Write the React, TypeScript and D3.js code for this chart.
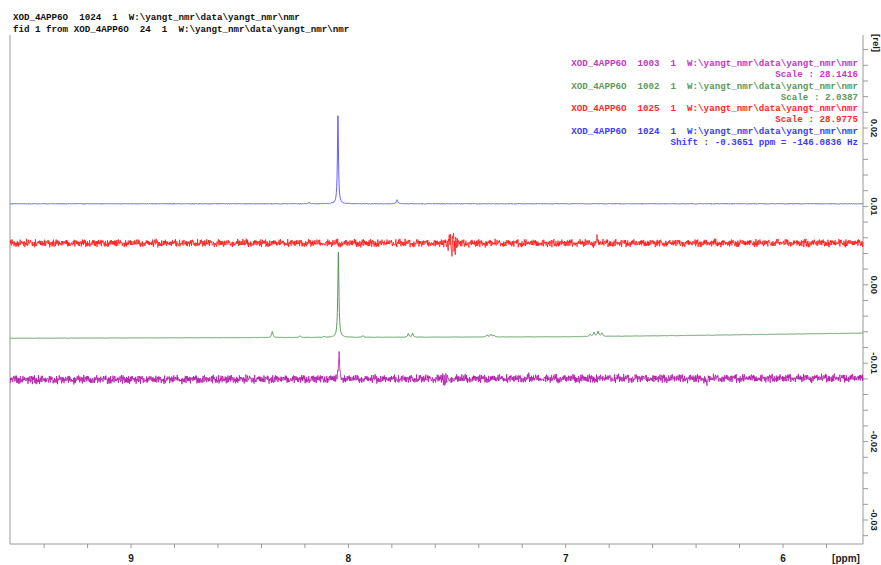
import * as d3 from 'd3'
import React from 'react'

const W = 881
const H = 565

// title block, top left
const headerLines = [
  'XOD_4APP6O  1024  1  W:\\yangt_nmr\\data\\yangt_nmr\\nmr',
  'fid 1 from XOD_4APP6O  24  1  W:\\yangt_nmr\\data\\yangt_nmr\\nmr',
]

// legend block, top right (top-down)
const legendLabels = [
  'XOD_4APP6O  1003  1  W:\\yangt_nmr\\data\\yangt_nmr\\nmr',
  'XOD_4APP6O  1002  1  W:\\yangt_nmr\\data\\yangt_nmr\\nmr',
  'XOD_4APP6O  1025  1  W:\\yangt_nmr\\data\\yangt_nmr\\nmr',
  'XOD_4APP6O  1024  1  W:\\yangt_nmr\\data\\yangt_nmr\\nmr',
]
const legendNotes = ['Scale : 28.1416', 'Scale : 2.0387', 'Scale : 28.9775', 'Shift : -0.3651 ppm = -146.0836 Hz']
const legendColors = ['#c03ac0', '#5a9a5a', '#ff2a2a', '#3b3bff']

// axes
const ppmLabels = [9, 8, 7, 6]
const relLabels = [0.02, 0.01, 0.0, -0.01, -0.02, -0.03]

// spectra: baseline anchors [ppm, rel], peaks [ppm, height rel, half width ppm]
const blueBase = [[9.56, 0.01033], [5.63, 0.01033]]
const bluePeaks = [[8.048, 0.01122, 0.0028], [8.181, 0.00015, 0.004], [7.776, 0.0005, 0.004]]

const redBase = [[9.56, 0.00529], [5.63, 0.00532]]
const redPeaks = [[6.856, 0.0009, 0.0015]]
// phase artefact near 7.52 ppm, x 0.001 rel, one value per 0.003 ppm from 7.55 down
const redBurst = [0.2, -0.4, 0.3, -0.7, 0.6, 1.2, -0.5, 1.4, -0.9, -1.7, 0.8, 1.3, -1.2, 0.4, -1.5, 0.9, -0.6, 0.7, -0.3, 0.4, -0.3, 0.2, -0.2]

const greenBase = [[9.56, -0.00682], [7.0, -0.00663], [6.4, -0.00645], [5.63, -0.00616]]
const greenPeaks = [
  [8.35, 0.00077, 0.004], [8.222, 0.0002, 0.004], [8.112, 0.00013, 0.004], [8.046, 0.0109, 0.003],
  [7.933, 0.0002, 0.004], [7.724, 0.00045, 0.0035], [7.704, 0.0005, 0.0035],
  [7.362, 0.00026, 0.004], [7.344, 0.00032, 0.004], [7.33, 0.0002, 0.004],
  [6.888, 0.00026, 0.004], [6.87, 0.0005, 0.004], [6.851, 0.00064, 0.004], [6.833, 0.0004, 0.004],
]

const magentaBase = [[9.56, -0.01212], [5.63, -0.0119]]
const magentaPeaks = [[8.043, 0.0031, 0.003], [6.35, -0.001, 0.002], [7.17, 0.0003, 0.0015]]
const magentaBurst = [0.3, -0.3, 0.5, -0.5, 0.4, -0.6, 0.5, -0.3, 0.3, -0.2]

// baseline jitter tables (typed, used as texture for the noisy traces)
const NOISE_A = [0.42, -0.81, 0.13, 0.67, -0.35, -0.92, 0.58, 0.05, -0.47, 0.88, -0.21, 0.34, -0.66, 0.91, -0.08, -0.55, 0.72, 0.19, -0.97, 0.46, -0.12, 0.63, -0.74, 0.28, 0.85, -0.39, -0.03, 0.51, -0.86, 0.37, 0.69, -0.58, 0.11, -0.29, 0.94, -0.45, 0.22, -0.71, 0.56, -0.16, 0.79, -0.93, 0.31, 0.02, -0.62, 0.48, -0.25, 0.83, -0.41, 0.15, -0.77, 0.6, -0.06, 0.39, -0.89, 0.74, -0.32, 0.09, -0.53, 0.97, -0.18]
const NOISE_B = [-0.33, 0.71, -0.58, 0.14, 0.92, -0.26, -0.84, 0.47, 0.06, -0.69, 0.38, 0.81, -0.12, -0.49, 0.63, -0.95, 0.24, 0.55, -0.37, 0.1, -0.78, 0.86, -0.2, 0.43, -0.64, 0.17, 0.99, -0.44, -0.07, 0.52, -0.88, 0.3, 0.66, -0.15, -0.73, 0.4, 0.08, -0.57, 0.89, -0.31, 0.2, -0.82, 0.61, 0.04, -0.5, 0.76, -0.27, -0.65, 0.35, 0.93, -0.11, -0.4, 0.57]

const spectra = [
  { color: '#5050ff', base: blueBase, peaks: bluePeaks, noise: 0.00006, seed: 3, width: 0.9 },
  { color: '#ff1a1a', base: redBase, peaks: redPeaks, noise: 0.0006, seed: 11, width: 0.8, burst: { start: 7.55, step: 0.003, values: redBurst } },
  { color: '#4a8f4a', base: greenBase, peaks: greenPeaks, noise: 0.00003, seed: 23, width: 0.9 },
  { color: '#b01aa8', base: magentaBase, peaks: magentaPeaks, noise: 0.00065, seed: 37, width: 0.8, burst: { start: 7.575, step: 0.004, values: magentaBurst } },
]

const frame = { left: 10, right: 863, top: 35, bottom: 544 }

const x = d3.scaleLinear().domain([9.557, 5.632]).range([frame.left, frame.right])
const y = d3.scaleLinear().domain([0.02, -0.03]).range([128, 520])

function buildTrace(s: any) {
  const [p0, p1] = x.domain()
  const step = 0.34 / Math.abs(x(8) - x(9))
  const grid = d3.range(p1, p0, step).concat(s.peaks.map((p: number[]) => p[0]))
  grid.sort(d3.descending)
  const base = d3.scaleLinear().domain(s.base.map((b: number[]) => b[0])).range(s.base.map((b: number[]) => b[1]))
  return grid.map((ppm: number, i: number) => {
    let v = base(ppm)
    for (const [c, h, w] of s.peaks) {
      const t = (ppm - c) / w
      v += h / (1 + t * t)
    }
    if (s.burst) {
      const k = Math.round((s.burst.start - ppm) / s.burst.step)
      if (k >= 0 && k < s.burst.values.length) v += s.burst.values[k] * 0.001 * (i % 2 ? 1 : 0.6)
    }
    v += s.noise * (NOISE_A[(i + s.seed) % NOISE_A.length] + NOISE_B[(i * 3 + s.seed) % NOISE_B.length]) / 2
    return [ppm, v] as [number, number]
  })
}

const line = d3.line<[number, number]>().x(d => x(d[0])).y(d => y(d[1]))

const mono = '"Liberation Mono", "DejaVu Sans Mono", monospace'
const sans = '"Liberation Sans", Arial, sans-serif'
const pre = { whiteSpace: 'pre' as const }

export default function App() {
  const xTicks = d3.range(56, 96, 2).map(d => d / 10).filter(d => x(d) >= frame.left && x(d) <= frame.right)
  const yTicks = d3.range(-32, 32, 2).map(d => d / 1000).filter(d => y(d) >= frame.top && y(d) <= frame.bottom)
  const fmt = (d: number) => d3.format('.2f')(d).replace('\u2212', '-')

  return (
    <svg width={W} height={H} style={{ position: 'absolute', left: 0, top: 0, background: '#fff' }}>
      {headerLines.map((t, i) => (
        <text key={i} x={13} y={17 + i * 12.5} fontFamily={mono} fontSize={9.2} fontWeight="bold" fill="#111"
          dominantBaseline="central" xmlSpace="preserve" style={pre}>{t}</text>
      ))}

      {/* frame */}
      <path d={`M${frame.left},${frame.top}V${frame.bottom}H${frame.right}V${frame.top}`} fill="none" stroke="#9a9a9a" strokeWidth={1} />

      {/* x ticks */}
      {xTicks.map(d => (
        <line key={d} x1={x(d)} x2={x(d)} y1={frame.bottom} y2={frame.bottom + 4} stroke="#9a9a9a" />
      ))}
      {ppmLabels.map(d => (
        <text key={d} x={x(d)} y={558} textAnchor="middle" dominantBaseline="central" fontFamily={sans} fontWeight="bold" fontSize={10} fill="#222">{d}</text>
      ))}
      <text x={846} y={558} textAnchor="middle" dominantBaseline="central" fontFamily={sans} fontWeight="bold" fontSize={10} fill="#222">[ppm]</text>

      {/* y ticks */}
      {yTicks.map(d => (
        <line key={d} x1={frame.right} x2={frame.right + 5} y1={y(d)} y2={y(d)} stroke="#9a9a9a" />
      ))}
      {relLabels.map(d => (
        <text key={d} transform={`translate(874,${y(d)}) rotate(90)`} textAnchor="middle" dominantBaseline="central"
          fontFamily={sans} fontWeight="bold" fontSize={9.5} fill="#222">{fmt(d)}</text>
      ))}
      <text transform="translate(876,43) rotate(90)" textAnchor="middle" dominantBaseline="central"
        fontFamily={sans} fontWeight="bold" fontSize={9.5} fill="#222">[rel]</text>

      {/* spectra */}
      {spectra.map((s, i) => (
        <path key={i} d={line(buildTrace(s)) || ''} fill="none" stroke={s.color} strokeWidth={s.width} strokeLinejoin="round" />
      ))}

      {/* legend */}
      {legendLabels.map((t, i) => (
        <g key={i} fontFamily={mono} fontSize={9.2} fontWeight="bold" fill={legendColors[i]}>
          <text x={858} y={63.5 + i * 22.5} textAnchor="end" dominantBaseline="central" xmlSpace="preserve" style={pre}>{t}</text>
          <text x={858} y={74.5 + i * 22.5} textAnchor="end" dominantBaseline="central" xmlSpace="preserve" style={pre}>{legendNotes[i]}</text>
        </g>
      ))}
    </svg>
  )
}
